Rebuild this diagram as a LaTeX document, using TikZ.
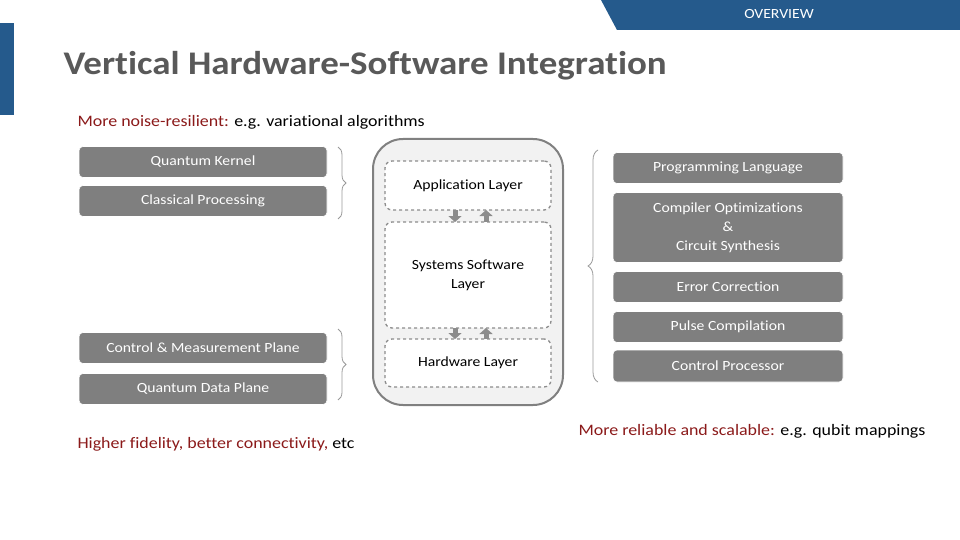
\documentclass[tikz,border=0pt]{standalone}
\usepackage{fontspec}
\setmainfont{Carlito}[FakeStretch=1.12,Ligatures=NoCommon]
\usetikzlibrary{arrows.meta,decorations.pathreplacing}
\definecolor{blu}{HTML}{255A8C}
\definecolor{gbox}{HTML}{7F7F7F}
\definecolor{dred}{HTML}{8B1A1A}
\definecolor{ttl}{HTML}{595959}
\tikzset{
 gb/.style={fill=gbox,draw=white,line width=0.6pt,rounded corners=4pt,text=white,font=\fontsize{14}{19}\selectfont,align=center,inner sep=0pt},
 dl/.style={draw=gray!90,dashed,line width=1.3pt,rounded corners=7pt,fill=white,font=\fontsize{14}{19}\selectfont,align=center,inner sep=0pt},
 br/.style={draw=gray!80,line width=0.8pt,decorate,decoration={brace,amplitude=8pt}},
 ar/.style={gray!90,line width=5pt,-{Triangle[length=6pt,width=13pt]}},
 rt/.style={font=\fontsize{16}{18}\selectfont,anchor=west}
}
\begin{document}
\begin{tikzpicture}[x=1pt,y=-1pt]
\useasboundingbox (0,0) rectangle (960,540);
\fill[blu] (601,0) -- (960,0) -- (960,30) -- (617,30) -- cycle;
\node[text=white,font=\fontsize{14}{16}\selectfont] (ov) at (779,14) {OVERVIEW};
\fill[blu] (0,23) rectangle (14,115);
\node[anchor=west,text=ttl,font=\fontsize{33}{36}\selectfont\bfseries] (title) at (60,66) {Vertical Hardware-Software Integration};
\node[rt] (t1) at (74,122) {\textcolor{dred}{More noise-resilient:} e.g. variational algorithms};
% left boxes
\node[gb,minimum width=248,minimum height=31] (qk) at (203,162) {Quantum Kernel};
\node[gb,minimum width=248,minimum height=31] (cp) at (203,201) {Classical Processing};
\node[gb,minimum width=248,minimum height=31] (cm) at (203,348) {Control \& Measurement Plane};
\node[gb,minimum width=248,minimum height=31] (qd) at (203,389) {Quantum Data Plane};
\draw[br] (338,147) -- (338,219);
\draw[br] (338,329) -- (338,400);
% container
\node[draw=gray,line width=2pt,fill=black!5,rounded corners=30pt,minimum width=190,minimum height=266,inner sep=0pt] (cont) at (468,272) {};
\node[dl,minimum width=166,minimum height=49] (app) at (468,185.5) {Application Layer};
\node[dl,minimum width=166,minimum height=106] (sys) at (468,275) {Systems Software\\Layer};
\node[dl,minimum width=166,minimum height=48] (hw) at (468,363) {Hardware Layer};
\coordinate (a1) at (455,210); \coordinate (a2) at (455,222);
\coordinate (a3) at (486,222); \coordinate (a4) at (486,210);
\coordinate (b1) at (455,328); \coordinate (b2) at (455,339);
\coordinate (b3) at (486,339); \coordinate (b4) at (486,328);
\draw[ar] (a1) -- (a2); \draw[ar] (a3) -- (a4);
\draw[ar] (b1) -- (b2); \draw[ar] (b3) -- (b4);
% right brace
\draw[br,decoration={brace,amplitude=10pt,mirror}] (598,150) -- (598,382);
% right boxes
\node[gb,minimum width=230,minimum height=31] (pl) at (728,168) {Programming Language};
\node[gb,minimum width=230,minimum height=70] (co) at (728,227.5) {Compiler Optimizations\\\&\\Circuit Synthesis};
\node[gb,minimum width=230,minimum height=31] (ec) at (728,287) {Error Correction};
\node[gb,minimum width=230,minimum height=31] (pc) at (728,327) {Pulse Compilation};
\node[gb,minimum width=230,minimum height=32] (cpr) at (728,366) {Control Processor};
\node[rt,text=dred] (t2) at (74,444) {Higher fidelity, better connectivity, \textcolor{black}{etc}};
\node[rt] (t3) at (575,431) {\textcolor{dred}{More reliable and scalable:} e.g. qubit mappings};
\end{tikzpicture}
\end{document}
